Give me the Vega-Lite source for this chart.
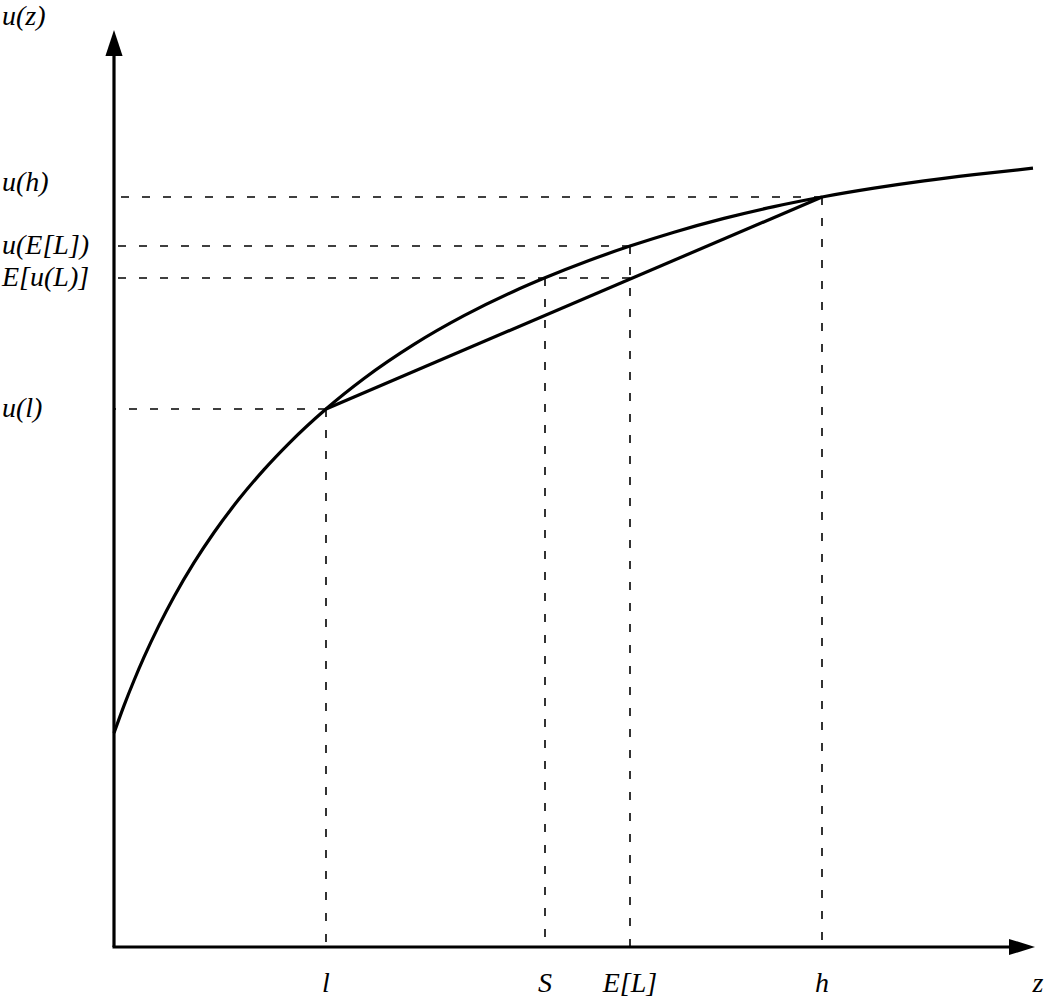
{
  "$schema": "https://vega.github.io/schema/vega-lite/v6.json",
  "width": 921,
  "height": 917,
  "autosize": {"type": "none"},
  "padding": {"left": 114, "top": 30, "right": 15, "bottom": 53},
  "background": "white",
  "config": {"view": {"stroke": null}},
  "datasets": {
    "curve": [
      {"z": 0, "u": 214}, {"z": 10, "u": 241.4}, {"z": 20, "u": 266.5}, {"z": 30, "u": 289.8},
      {"z": 45, "u": 321.6}, {"z": 60, "u": 350.3}, {"z": 80, "u": 384.3}, {"z": 100, "u": 414.5},
      {"z": 125, "u": 447.9}, {"z": 150, "u": 477.4}, {"z": 175, "u": 503.7}, {"z": 212, "u": 538},
      {"z": 250, "u": 568.5}, {"z": 300, "u": 602.6}, {"z": 350, "u": 631.3}, {"z": 400, "u": 655.8},
      {"z": 431, "u": 669.2}, {"z": 475, "u": 686.5}, {"z": 516, "u": 700.9}, {"z": 560, "u": 714.8},
      {"z": 610, "u": 728.6}, {"z": 660, "u": 740.4}, {"z": 708, "u": 750}, {"z": 760, "u": 758.8},
      {"z": 810, "u": 766.1}, {"z": 860, "u": 772.3}, {"z": 919, "u": 778.8}
    ],
    "chord": [{"z": 212, "u": 538}, {"z": 708, "u": 750}],
    "hlines": [{"z": 708, "u": 750}, {"z": 516, "u": 701}, {"z": 516, "u": 669}, {"z": 212, "u": 538}],
    "vlines": [{"z": 212, "u": 538}, {"z": 431, "u": 669}, {"z": 516, "u": 701}, {"z": 708, "u": 750}],
    "ylabels": [{"label": "u(E[L])", "u": 701}, {"label": "E[u(L)]", "u": 669}, {"label": "u(l)", "u": 538}],
    "ytop": [{"label": "u(h)", "u": 750}],
    "xlabels": [{"label": "l", "z": 212}, {"label": "S", "z": 431}, {"label": "E[L]", "z": 516}, {"label": "h", "z": 708}],
    "axes": [{"label": "u(z)", "zmax": 921, "umax": 917, "origin": 0}],
    "xtitle": [{"label": "z", "z": 921, "u": 0}]
  },
  "layer": [
    {
      "data": {"name": "hlines"},
      "mark": {"type": "rule", "color": "black", "strokeWidth": 1.6, "strokeDash": [8, 13]},
      "encoding": {
        "x": {"field": "z", "type": "quantitative", "scale": {"domain": [0, 921], "nice": false, "zero": false}, "axis": null},
        "x2": {"datum": 0},
        "y": {"field": "u", "type": "quantitative", "scale": {"domain": [0, 917], "nice": false, "zero": false}, "axis": null}
      }
    },
    {
      "data": {"name": "vlines"},
      "mark": {"type": "rule", "color": "black", "strokeWidth": 1.6, "strokeDash": [8, 13]},
      "encoding": {
        "x": {"field": "z", "type": "quantitative", "scale": {"domain": [0, 921], "nice": false, "zero": false}, "axis": null},
        "y": {"field": "u", "type": "quantitative", "scale": {"domain": [0, 917], "nice": false, "zero": false}, "axis": null},
        "y2": {"datum": 0}
      }
    },
    {
      "data": {"name": "curve"},
      "mark": {"type": "line", "color": "black", "strokeWidth": 3.2, "interpolate": "monotone"},
      "encoding": {
        "x": {"field": "z", "type": "quantitative", "scale": {"domain": [0, 921], "nice": false, "zero": false}, "axis": null},
        "y": {"field": "u", "type": "quantitative", "scale": {"domain": [0, 917], "nice": false, "zero": false}, "axis": null}
      }
    },
    {
      "data": {"name": "chord"},
      "mark": {"type": "line", "color": "black", "strokeWidth": 3.2},
      "encoding": {
        "x": {"field": "z", "type": "quantitative", "scale": {"domain": [0, 921], "nice": false, "zero": false}, "axis": null},
        "y": {"field": "u", "type": "quantitative", "scale": {"domain": [0, 917], "nice": false, "zero": false}, "axis": null}
      }
    },
    {
      "data": {"name": "axes"},
      "mark": {"type": "rule", "color": "black", "strokeWidth": 3.2, "y2Offset": 21},
      "encoding": {
        "x": {"field": "origin", "type": "quantitative", "scale": {"domain": [0, 921], "nice": false, "zero": false}, "axis": null},
        "y": {"field": "origin", "type": "quantitative", "scale": {"domain": [0, 917], "nice": false, "zero": false}, "axis": null},
        "y2": {"field": "umax"}
      }
    },
    {
      "data": {"name": "axes"},
      "mark": {"type": "rule", "color": "black", "strokeWidth": 3.2, "xOffset": -1.5, "x2Offset": -23},
      "encoding": {
        "x": {"field": "origin", "type": "quantitative", "scale": {"domain": [0, 921], "nice": false, "zero": false}, "axis": null},
        "x2": {"field": "zmax"},
        "y": {"field": "origin", "type": "quantitative", "scale": {"domain": [0, 917], "nice": false, "zero": false}, "axis": null}
      }
    },
    {
      "data": {"name": "axes"},
      "mark": {"type": "point", "shape": "M0,0L-0.33,1L0.33,1Z", "size": 2704, "filled": true, "color": "black", "opacity": 1, "strokeWidth": 0},
      "encoding": {
        "x": {"field": "origin", "type": "quantitative", "scale": {"domain": [0, 921], "nice": false, "zero": false}, "axis": null},
        "y": {"field": "umax", "type": "quantitative", "scale": {"domain": [0, 917], "nice": false, "zero": false}, "axis": null}
      }
    },
    {
      "data": {"name": "axes"},
      "mark": {"type": "point", "shape": "M0,0L-1,-0.31L-1,0.31Z", "size": 2704, "filled": true, "color": "black", "opacity": 1, "strokeWidth": 0},
      "encoding": {
        "x": {"field": "zmax", "type": "quantitative", "scale": {"domain": [0, 921], "nice": false, "zero": false}, "axis": null},
        "y": {"field": "origin", "type": "quantitative", "scale": {"domain": [0, 917], "nice": false, "zero": false}, "axis": null}
      }
    },
    {
      "data": {"name": "ylabels"},
      "mark": {"type": "text", "align": "left", "baseline": "alphabetic", "dx": -112, "dy": 8, "font": "Liberation Serif", "fontStyle": "italic", "fontSize": 28, "color": "black"},
      "encoding": {
        "x": {"value": 0},
        "y": {"field": "u", "type": "quantitative", "scale": {"domain": [0, 917], "nice": false, "zero": false}, "axis": null},
        "text": {"field": "label"}
      }
    },
    {
      "data": {"name": "ytop"},
      "mark": {"type": "text", "align": "left", "baseline": "alphabetic", "dx": -112, "dy": -6, "font": "Liberation Serif", "fontStyle": "italic", "fontSize": 28, "color": "black"},
      "encoding": {
        "x": {"value": 0},
        "y": {"field": "u", "type": "quantitative", "scale": {"domain": [0, 917], "nice": false, "zero": false}, "axis": null},
        "text": {"field": "label"}
      }
    },
    {
      "data": {"name": "axes"},
      "mark": {"type": "text", "align": "left", "baseline": "alphabetic", "dx": -112, "dy": -5, "font": "Liberation Serif", "fontStyle": "italic", "fontSize": 28, "color": "black"},
      "encoding": {
        "x": {"field": "origin", "type": "quantitative", "scale": {"domain": [0, 921], "nice": false, "zero": false}, "axis": null},
        "y": {"field": "umax", "type": "quantitative", "scale": {"domain": [0, 917], "nice": false, "zero": false}, "axis": null},
        "text": {"field": "label"}
      }
    },
    {
      "data": {"name": "xlabels"},
      "mark": {"type": "text", "align": "center", "baseline": "alphabetic", "dy": 45, "font": "Liberation Serif", "fontStyle": "italic", "fontSize": 28, "color": "black"},
      "encoding": {
        "x": {"field": "z", "type": "quantitative", "scale": {"domain": [0, 921], "nice": false, "zero": false}, "axis": null},
        "y": {"value": 917},
        "text": {"field": "label"}
      }
    },
    {
      "data": {"name": "xtitle"},
      "mark": {"type": "text", "align": "center", "baseline": "alphabetic", "dx": 3, "dy": 45, "font": "Liberation Serif", "fontStyle": "italic", "fontSize": 28, "color": "black"},
      "encoding": {
        "x": {"field": "z", "type": "quantitative", "scale": {"domain": [0, 921], "nice": false, "zero": false}, "axis": null},
        "y": {"field": "u", "type": "quantitative", "scale": {"domain": [0, 917], "nice": false, "zero": false}, "axis": null},
        "text": {"field": "label"}
      }
    }
  ]
}
